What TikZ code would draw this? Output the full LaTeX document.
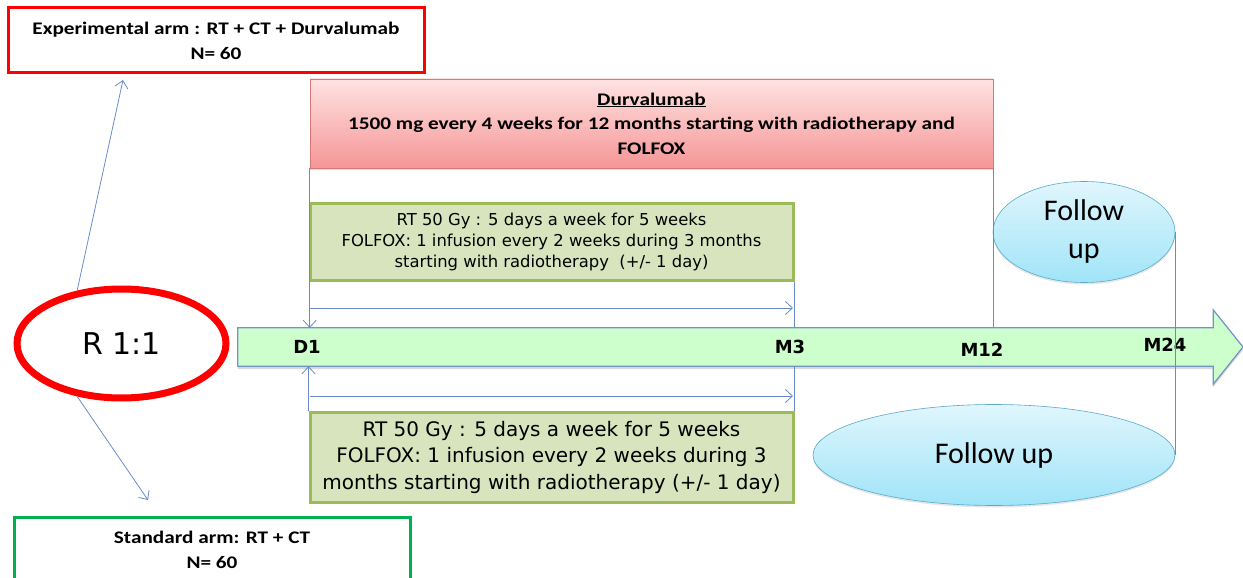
\documentclass[tikz,border=0pt]{standalone}
\usepackage{fontspec}
\setmainfont{Carlito}
\newfontfamily\calb[FakeStretch=1.2]{Carlito}
\newfontfamily\tah{DejaVu Sans}
\usetikzlibrary{arrows.meta,shapes.geometric,shadows}
\definecolor{conn}{RGB}{105,140,200}
\definecolor{gfill}{RGB}{216,228,189}
\definecolor{gbord}{RGB}{155,187,89}
\definecolor{tlfill}{RGB}{204,255,204}
\definecolor{tlbord}{RGB}{115,148,200}
\definecolor{stdgreen}{RGB}{0,176,80}
\begin{document}
\begin{tikzpicture}[x=1pt,y=-1pt,
  armbox/.style={draw, line width=3pt, fill=white, inner sep=0pt, align=center,
    font=\calb\bfseries\fontsize{17.7}{25}\selectfont},
  greenbox/.style={draw=gbord, fill=gfill, line width=3pt, inner sep=0pt, align=center,
    minimum width=483, drop shadow={opacity=0.2,shadow xshift=0pt,shadow yshift=-2pt}},
  fubox/.style={ellipse, draw={rgb,255:red,90;green,170;blue,200}, line width=0.6pt,
    top color={rgb,255:red,224;green,246;blue,253}, bottom color={rgb,255:red,160;green,228;blue,248},
    inner sep=0pt, align=center, font=\fontsize{30}{38}\selectfont,
    drop shadow={opacity=0.2,shadow xshift=0pt,shadow yshift=-2pt}},
  tllabel/.style={font=\tah\bfseries\fontsize{18}{20}\selectfont, inner sep=0pt},
  link/.style={draw=conn, line width=0.8pt},
  arr/.style={link, -{Straight Barb[length=7pt,width=13pt]}}
]
\useasboundingbox (0,0) rectangle (1243,578);

% arm boxes
\node[armbox, draw=red, minimum width=416, minimum height=65] (exp) at (216,40.5)
  {Experimental arm : RT + CT + Durvalumab\\N= 60};
\node[armbox, draw=stdgreen, minimum width=396, minimum height=66] (std) at (212,550)
  {Standard arm: RT + CT\\N= 60};

% randomisation
\node[ellipse, draw=red, line width=7pt, minimum width=209, minimum height=109, inner sep=0pt,
  font=\tah\fontsize{30}{36}\selectfont] (R) at (121.5,343.5) {R 1:1};
\coordinate (expArr) at (123,80);
\coordinate (stdArr) at (148,500);

% Durvalumab box
\node[draw={rgb,255:red,215;green,120;blue,120}, line width=0.6pt,
  top color={rgb,255:red,255;green,226;blue,226}, bottom color={rgb,255:red,245;green,150;blue,150},
  minimum width=683, minimum height=89, inner sep=0pt, align=center,
  font=\calb\bfseries\fontsize{17.7}{24.5}\selectfont,
  drop shadow={opacity=0.25,shadow xshift=0pt,shadow yshift=-2pt}] (durv) at (651.5,123.5)
  {\underline{Durvalumab}\\1500 mg every 4 weeks for 12 months starting with radiotherapy and\\FOLFOX};

% green boxes
\node[greenbox, minimum height=77, font=\tah\fontsize{16.4}{21}\selectfont] (gu) at (551.5,241.5)
  {RT 50 Gy : 5 days a week for 5 weeks\\FOLFOX: 1 infusion every 2 weeks during 3 months\\starting with radiotherapy \ (+/- 1 day)};
\node[greenbox, minimum height=90, font=\tah\fontsize{20}{26.5}\selectfont] (gl) at (551.5,457)
  {RT 50 Gy : 5 days a week for 5 weeks\\FOLFOX: 1 infusion every 2 weeks during 3\\months starting with radiotherapy (+/- 1 day)};

% timeline
\node[minimum width=975, minimum height=38, inner sep=0pt] (tl) at (725.5,347) {};
\coordinate (tip) at (1243,347);
\fill[black, opacity=0.15]
  ([yshift=-3pt]tl.north west) -- ([yshift=-3pt]tl.north east) -- ++(0,-18) -- ([yshift=-3pt]tip)
  -- ([yshift=-21pt]tl.south east) -- ([yshift=-3pt]tl.south east) -- ([yshift=-3pt]tl.south west) -- cycle;
\draw[draw=tlbord, line width=1.2pt, fill=tlfill]
  (tl.north west) -- (tl.north east) -- ++(0,-18) -- (tip) -- ([yshift=-18pt]tl.south east)
  -- (tl.south east) -- (tl.south west) -- cycle;
\node[tllabel] (d1) at (307,347) {D1};
\node[tllabel] (m3) at (790,347) {M3};
\node[tllabel] (m12) at (982,350) {M12};
\node[tllabel] (m24) at (1165,345) {M24};

% follow up
\node[fubox, minimum width=182, minimum height=101] (fu1) at (1084,232) {Follow\\up};
\node[fubox, minimum width=362, minimum height=101] (fu2) at (994,455) {Follow up};

% connectors
\draw[arr] (R.130) -- (expArr);
\draw[arr] (R.230) -- (stdArr);
\draw[arr] (durv.south west) -- (durv.south west |- tl.north);
\draw[link] (durv.south east) -- (durv.south east |- tl.north);
\draw[link] (gu.south east) -- (gu.south east |- tl.north);
\coordinate (h1a) at (310,308);
\coordinate (h1b) at (793,308);
\draw[arr] (h1a) -- (h1b);
\draw[arr] (gl.north west) -- (gl.north west |- tl.south);
\draw[link] (gl.north east) -- (gl.north east |- tl.south);
\coordinate (h2a) at (310,396);
\coordinate (h2b) at (793,396);
\draw[arr] (h2a) -- (h2b);
\draw[link] (fu1.east) -- (fu1.east |- fu2.east);
\end{tikzpicture}
\end{document}
